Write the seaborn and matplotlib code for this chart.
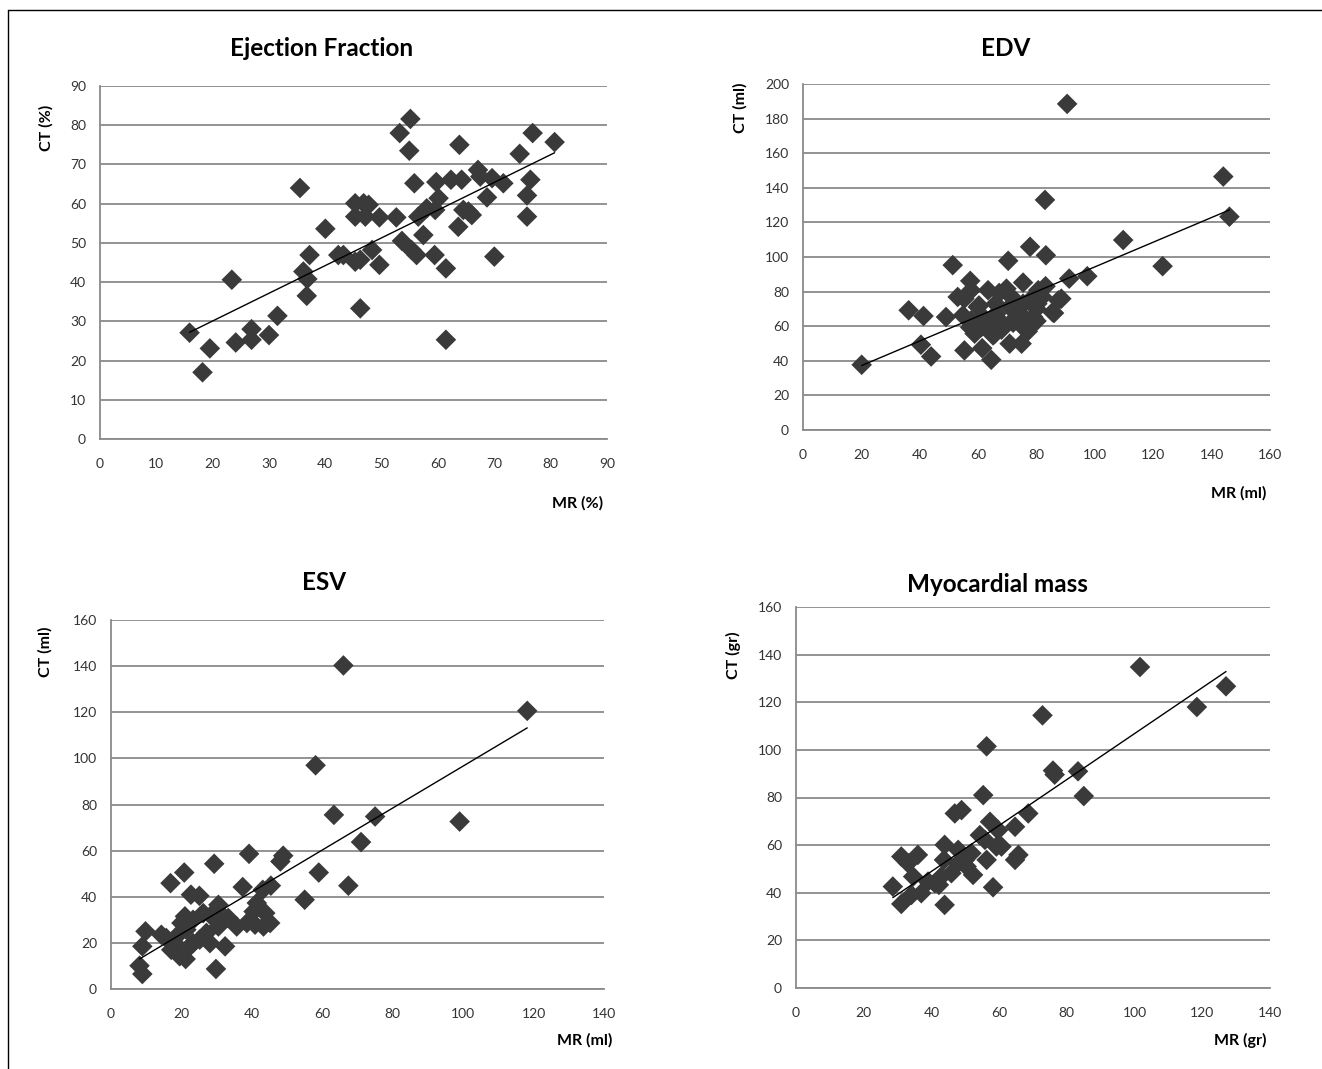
import numpy as np
import matplotlib
matplotlib.use("Agg")
import matplotlib.pyplot as plt
import seaborn as sns

# Ejection fraction (%)
ef_mr = [15.9, 18.2, 19.5, 23.4, 24.1, 26.9, 26.9, 30.0, 31.5, 35.5, 36.1, 36.8, 36.7, 37.2,
         40.0, 42.3, 43.2, 53.2, 55.1, 54.9, 63.8, 55.8, 59.7, 62.3, 64.2, 67.1, 67.5, 69.6,
         71.6, 74.5, 76.8, 80.7, 76.4, 75.8, 75.8, 70.0, 68.7, 60.1, 59.5, 58.0, 56.5, 57.4,
         65.4, 66.0, 64.5, 63.6, 61.4, 61.4, 59.4, 56.2, 55.3, 53.6, 52.6, 49.6, 49.6, 48.3,
         46.2, 45.3, 46.2, 45.3, 45.3, 47.1, 47.7, 46.8]
ef_ct = [27.1, 17.0, 23.1, 40.6, 24.6, 28.0, 25.3, 26.5, 31.4, 64.0, 42.7, 40.8, 36.5, 46.9,
         53.6, 46.9, 46.9, 78.0, 81.6, 73.5, 75.0, 65.2, 65.5, 66.1, 66.1, 68.6, 66.9, 66.5,
         65.2, 72.7, 78.0, 75.7, 66.1, 62.1, 56.7, 46.5, 61.6, 61.4, 58.4, 58.8, 56.7, 52.0,
         58.0, 57.1, 58.4, 54.1, 43.5, 25.3, 46.9, 46.9, 48.2, 50.5, 56.5, 56.5, 44.4, 48.2,
         45.7, 45.2, 33.3, 60.1, 56.7, 56.7, 59.7, 60.1]

# EDV (ml)
edv_mr = [20.1, 36.2, 41.3, 40.4, 43.9, 49.0, 51.3, 70.3, 77.8, 57.3, 53.0, 55.3, 57.6, 63.4,
          67.2, 69.7, 75.4, 59.9, 54.8, 57.6, 58.8, 61.1, 65.1, 61.7, 66.2, 70.8, 75.4, 78.9,
          78.9, 73.1, 68.5, 55.3, 61.4, 64.5, 70.8, 74.9, 75.4, 80.6, 60.3, 57.3, 65.6, 85.5,
          78.3, 87.5, 62.0, 64.0, 68.0, 72.0, 76.0, 80.0, 82.0, 66.0, 72.0, 74.0, 80.0, 77.0,
          90.5, 144.0, 146.1, 82.9, 109.7, 123.2, 83.2, 91.2, 97.4, 88.5, 86.0, 83.1, 80.3]
edv_ct = [37.7, 69.2, 65.9, 49.3, 42.5, 65.3, 95.3, 97.8, 105.9, 86.2, 76.9, 75.9, 80.8, 80.8,
          79.2, 81.7, 85.2, 71.1, 66.3, 63.4, 55.7, 59.5, 54.7, 65.3, 67.2, 71.1, 73.0, 65.3,
          76.9, 65.3, 61.4, 46.0, 47.3, 40.6, 49.9, 49.9, 59.5, 80.8, 72.0, 59.3, 55.4, 68.1,
          60.3, 74.9, 62.0, 60.0, 58.0, 62.0, 64.0, 70.0, 77.0, 73.0, 76.0, 68.0, 63.0, 57.0,
          188.5, 146.5, 123.3, 133.0, 109.8, 94.7, 101.0, 87.5, 88.9, 75.9, 67.6, 83.1, 73.0]

# ESV (ml)
esv_mr = [66.0, 58.1, 63.3, 59.0, 67.4, 55.0, 39.2, 48.9, 48.1, 29.3, 20.8, 16.9, 22.7, 25.1,
          37.4, 43.1, 45.4, 30.5, 9.8, 8.9, 8.1, 8.9, 14.3, 21.2, 29.8, 32.4, 17.1, 20.0, 21.4,
          18.6, 23.3, 26.2, 28.6, 30.5, 33.3, 27.1, 25.2, 35.7, 38.6, 40.5, 41.4, 43.8, 45.2,
          43.3, 40.9, 30.0, 23.3, 19.5, 28.1, 15.7, 21.0, 18.1, 22.4, 118.2, 99.0, 75.0, 71.0]
esv_ct = [140.3, 97.0, 75.5, 50.5, 44.8, 38.7, 58.6, 57.8, 55.3, 54.3, 50.5, 45.9, 40.9, 40.4,
          44.2, 43.0, 44.8, 36.5, 25.0, 18.5, 10.1, 6.5, 23.5, 13.0, 8.7, 18.5, 17.0, 28.6, 25.7,
          22.8, 30.0, 32.9, 31.5, 27.1, 30.8, 24.3, 21.4, 27.1, 28.6, 33.6, 37.3, 32.9, 28.6,
          27.1, 27.9, 34.4, 19.9, 14.2, 19.9, 22.1, 31.5, 19.9, 18.5, 120.6, 72.6, 74.8, 63.7]

# Myocardial mass (gr)
mass_mr = [56.3, 55.3, 46.9, 48.9, 28.6, 31.1, 31.1, 33.1, 36.0, 34.6, 34.1, 37.0, 39.0, 43.9,
           43.9, 43.7, 42.2, 42.9, 45.9, 47.9, 49.9, 51.8, 52.3, 47.9, 54.3, 55.8, 57.3, 56.3,
           58.2, 59.7, 60.7, 59.2, 64.7, 65.7, 68.6, 64.7, 50.4, 41.0, 101.6, 127.0, 118.4, 72.8,
           75.9, 76.4, 83.3, 85.0]
mass_ct = [101.5, 81.0, 73.3, 74.7, 42.6, 35.3, 55.2, 52.4, 55.9, 46.8, 39.1, 39.8, 44.7, 34.9,
           60.1, 53.8, 43.3, 46.8, 48.2, 58.0, 53.8, 56.6, 47.5, 52.4, 64.2, 62.2, 69.8, 53.8,
           42.3, 66.3, 59.4, 59.4, 67.7, 55.9, 73.3, 53.8, 51.0, 44.0, 134.8, 126.7, 118.0, 114.5,
           91.3, 89.6, 91.0, 80.6]

W, H = 1322, 1069
sns.set_theme(style="white")
plt.rcParams["font.family"] = ["Lato", "DejaVu Sans"]

fig = plt.figure(figsize=(W / 100, H / 100), dpi=100)


def px_box(x0, x1, y0, y1):
    return [x0 / W, 1 - y1 / H, (x1 - x0) / W, (y1 - y0) / H]


def fx(x):
    return x / W


def fy(y):
    return 1 - y / H


panels = [
    # data, axes box, limits, texts
    (ef_mr, ef_ct, px_box(100, 607, 86, 439), 90, 10, 90, 10,
     "Ejection Fraction", (322, 48), "CT (%)", (46, 128), "MR (%)", (578, 503)),
    (edv_mr, edv_ct, px_box(803, 1270, 84, 430), 160, 20, 200, 20,
     "EDV", (1006, 48), "CT (ml)", (740, 108), "MR (ml)", (1239, 493)),
    (esv_mr, esv_ct, px_box(111, 604, 620, 989), 140, 20, 160, 20,
     "ESV", (324, 583), "CT (ml)", (45, 652), "MR (ml)", (585, 1040)),
    (mass_mr, mass_ct, px_box(796, 1270, 607, 988), 140, 20, 160, 20,
     "Myocardial mass", (997, 585), "CT (gr)", (733, 655), "MR (gr)", (1240, 1040)),
]

axis_grey = "#8a8a8a"
marker_col = "#3a3a3a"
label_col = "#333333"

for (mr, ct, box, xmax, xstep, ymax, ystep,
     title, tpos, ylab, ypos, xlab, xpos) in panels:
    ax = fig.add_axes(box)
    sns.scatterplot(x=mr, y=ct, ax=ax, marker="D", s=110, color=marker_col,
                    edgecolor="none", zorder=3)
    sns.regplot(x=np.array(mr), y=np.array(ct), ax=ax, scatter=False, ci=None,
                truncate=True, line_kws={"color": "black", "lw": 1.0, "zorder": 4})
    ax.set_xlim(0, xmax)
    ax.set_ylim(0, ymax)
    ax.set_xticks(np.arange(0, xmax + 1, xstep))
    ax.set_yticks(np.arange(0, ymax + 1, ystep))
    ax.yaxis.grid(True, color=axis_grey, lw=1.3)
    ax.xaxis.grid(False)
    ax.set_axisbelow(True)
    for side in ["top", "right"]:
        ax.spines[side].set_visible(False)
    for side in ["left", "bottom"]:
        ax.spines[side].set_color(axis_grey)
        ax.spines[side].set_linewidth(1.3)
    ax.tick_params(axis="both", which="major", direction="out", length=4,
                   width=1.1, color=axis_grey, labelsize=10, labelcolor=label_col)
    ax.tick_params(axis="x", pad=10)
    ax.tick_params(axis="y", pad=6)
    ax.set_xlabel("")
    ax.set_ylabel("")

    fig.text(fx(tpos[0]), fy(tpos[1]), title, ha="center", va="center",
             fontsize=17.5, fontweight="bold", color="black")
    fig.text(fx(ypos[0]), fy(ypos[1]), ylab, ha="center", va="center",
             rotation=90, fontsize=11.5, fontweight="bold", color="black")
    fig.text(fx(xpos[0]), fy(xpos[1]), xlab, ha="center", va="center",
             fontsize=11.5, fontweight="bold", color="black")

# thin frame round the figure, as in the scanned original
fig.add_artist(plt.Line2D([fx(8), fx(8)], [fy(10), fy(1069)], color="black", lw=1.0))
fig.add_artist(plt.Line2D([fx(8), fx(1322)], [fy(10), fy(10)], color="black", lw=1.0))

fig.savefig("out.png", dpi=100, facecolor="white")
